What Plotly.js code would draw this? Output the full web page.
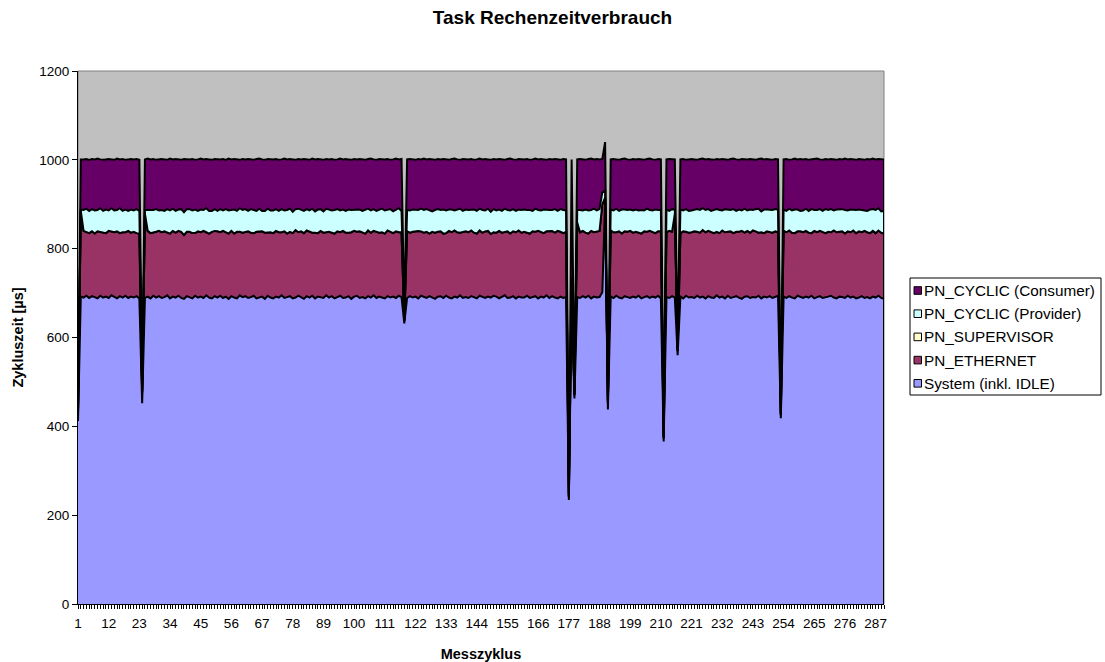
<!DOCTYPE html>
<html>
<head>
<meta charset="utf-8">
<script src="https://cdn.plot.ly/plotly-3.0.1.min.js"></script>
<style>html,body{margin:0;padding:0;background:#fff;}#chart{width:1105px;height:662px;}</style>
</head>
<body>
<div id="chart"></div>
<script>
// Series values per measurement cycle (µs)
const systemIdle = [
412,692,690,694,689,693,691,688,694,690,
692,689,695,691,688,693,690,694,689,692,
690,693,688,452,689,692,688,694,690,693,
689,691,695,688,692,690,694,689,687,693,
691,688,694,690,692,689,695,690,688,693,
690,694,689,692,687,693,690,688,695,691,
693,689,691,694,688,690,692,687,694,690,
688,692,690,695,689,691,693,688,690,694,
691,687,693,690,694,688,692,690,689,695,
690,693,688,691,694,689,690,693,687,692,
694,689,691,688,693,690,695,689,692,690,
688,693,690,692,689,694,691,632,689,693,
690,692,688,694,691,689,693,690,687,692,
693,689,694,690,688,692,690,695,689,691,
689,693,690,688,694,691,689,692,690,694,
692,688,691,695,689,690,693,688,692,690,
690,694,689,691,693,688,692,690,695,689,
693,690,688,692,689,691,234,690,463,691,
689,693,690,694,688,692,690,691,702,905,
438,692,689,694,690,688,693,691,689,692,
690,694,688,691,693,689,692,690,694,688,
366,691,689,693,690,560,692,688,694,690,
691,689,694,690,692,688,693,690,689,695,
690,692,688,694,689,691,693,690,687,692,
693,689,691,690,694,688,692,690,693,689,
691,694,418,692,689,693,690,688,694,691,
689,692,690,694,688,691,693,689,690,692,
694,690,688,692,691,689,694,690,692,688,
690,693,689,691,688,692,690,694,689,687];

const pnEthernet = [
18,193,150,144,146,146,143,151,144,146,
143,151,144,146,151,142,147,143,151,144,
148,142,146,24,190,148,147,142,148,147,
148,148,142,146,148,146,146,149,144,145,
147,147,141,149,145,151,142,144,150,147,
149,143,151,145,147,147,144,150,143,145,
145,150,145,141,150,148,147,149,142,147,
147,148,147,142,150,143,145,147,152,143,
148,148,148,148,142,148,143,150,147,142,
148,143,146,148,143,151,146,143,150,148,
144,150,145,146,148,146,145,149,144,147,
146,148,147,143,150,143,146,6,150,143,
148,147,152,145,145,149,141,148,149,146,
146,145,141,150,149,149,147,141,148,148,
148,148,146,146,147,145,150,148,143,143,
144,152,145,142,150,144,146,149,149,146,
148,142,145,148,145,152,145,145,144,150,
147,146,152,146,146,147,7,40,7,168,
148,147,146,140,152,145,149,149,198,10,
15,149,148,143,149,146,146,147,151,144,
148,142,146,148,145,151,145,145,145,151,
7,146,151,145,188,10,143,151,144,146,
146,150,144,146,150,149,147,148,146,143,
145,149,149,144,150,144,145,148,153,144,
147,147,150,149,142,149,143,149,145,147,
148,143,8,148,148,148,146,147,145,148,
148,148,146,141,152,146,147,149,145,146,
143,151,149,146,148,145,145,147,149,147,
149,144,151,146,147,148,145,147,147,147];

const pnSupervisor = [
0,0,0,0,0,0,0,0,0,0, 0,0,0,0,0,0,0,0,0,0, 0,0,0,0,0,0,0,0,0,0,
0,0,0,0,0,0,0,0,0,0, 0,0,0,0,0,0,0,0,0,0, 0,0,0,0,0,0,0,0,0,0,
0,0,0,0,0,0,0,0,0,0, 0,0,0,0,0,0,0,0,0,0, 0,0,0,0,0,0,0,0,0,0,
0,0,0,0,0,0,0,0,0,0, 0,0,0,0,0,0,0,0,0,0, 0,0,0,0,0,0,0,0,0,0,
0,0,0,0,0,0,0,0,0,0, 0,0,0,0,0,0,0,0,0,0, 0,0,0,0,0,0,0,0,0,0,
0,0,0,0,0,0,0,0,0,0, 0,0,0,0,0,0,0,0,0,0, 0,0,0,0,0,0,0,0,0,0,
0,0,0,0,0,0,0,0,0,0, 0,0,0,0,0,0,0,0,0,0, 0,0,0,0,0,0,0,0,0,0,
0,0,0,0,0,0,0,0,0,0, 0,0,0,0,0,0,0,0,0,0, 0,0,0,0,0,0,0,0,0,0,
0,0,0,0,0,0,0,0,0,0, 0,0,0,0,0,0,0,0,0,0, 0,0,0,0,0,0,0,0,0,0,
0,0,0,0,0,0,0,0,0,0, 0,0,0,0,0,0,0,0,0,0];

const pnProvider = [
4,3,47,52,50,50,52,48,53,49,
53,46,52,49,48,56,48,51,45,52,
48,54,51,4,8,47,52,51,51,46,
50,46,52,52,50,49,48,51,51,51,
51,51,53,46,51,47,54,51,47,49,
46,52,46,52,52,47,54,47,53,51,
51,46,53,52,47,52,46,49,54,49,
51,49,48,52,47,53,52,48,47,53,
48,50,48,48,54,48,53,49,48,53,
50,50,53,50,49,48,49,52,50,47,
49,49,49,53,49,50,49,47,52,53,
52,46,52,49,48,54,48,3,48,50,
50,49,47,51,51,51,53,46,51,51,
48,54,51,48,51,45,51,54,48,49,
50,47,52,51,49,51,47,50,50,52,
50,48,49,53,48,52,50,48,47,51,
50,51,53,46,52,47,49,53,48,48,
47,53,45,51,52,48,3,5,3,28,
50,46,52,52,47,53,47,49,27,15,
3,47,49,53,46,54,49,49,48,50,
50,50,53,47,52,47,49,53,48,48,
3,51,45,51,10,3,53,47,51,49,
49,49,51,51,49,50,49,47,52,51,
52,45,52,50,48,54,47,50,46,54,
46,52,46,50,54,47,53,49,49,51,
50,51,3,48,48,49,50,53,49,46,
49,50,49,54,47,50,49,47,54,49,
52,45,51,50,50,53,47,51,46,52,
49,50,47,48,53,49,52,50,48,51];

const pnConsumer = [
4,113,114,112,115,113,115,116,110,115,
113,116,110,114,116,110,117,112,116,114,
115,113,115,3,114,116,114,115,111,115,
115,116,111,117,111,117,113,111,120,112,
112,116,112,116,115,114,111,116,115,113,
116,112,116,111,117,114,114,116,109,115,
112,117,112,113,117,113,116,115,112,115,
115,113,115,112,117,114,112,118,111,112,
114,117,112,114,113,117,114,112,116,112,
113,116,113,112,117,113,117,113,113,115,
114,114,116,113,112,117,112,115,114,111,
115,115,111,117,116,110,117,3,114,116,
113,112,115,111,116,112,115,117,113,113,
114,114,115,112,114,117,113,110,117,113,
114,114,112,116,113,114,116,111,117,113,
115,114,116,110,115,117,112,115,114,114,
113,115,113,116,113,114,116,113,113,115,
114,113,116,111,115,115,3,266,3,114,
115,115,112,116,116,111,116,112,75,110,
4,113,116,111,115,114,115,114,112,116,
113,116,114,114,112,116,115,112,115,114,
3,113,117,112,113,3,113,116,111,116,
116,113,111,115,112,114,113,116,113,113,
114,116,112,112,115,114,116,112,116,111,
115,114,114,111,112,119,113,114,114,113,
113,113,3,113,117,110,115,115,113,117,
115,112,115,112,115,116,112,115,113,114,
113,115,112,114,112,116,115,114,114,113,
114,114,113,117,113,114,114,111,117,116];

const seriesNames = ["System (inkl. IDLE)", "PN_ETHERNET", "PN_SUPERVISOR", "PN_CYCLIC (Provider)", "PN_CYCLIC (Consumer)"];
const seriesColors = ["#9999FF", "#993366", "#FFFFCC", "#CCFFFF", "#660066"];
const seriesValues = [systemIdle, pnEthernet, pnSupervisor, pnProvider, pnConsumer];
const cycles = systemIdle.map((_, i) => i + 1);

const FONT = "Liberation Sans, Arial, sans-serif";
const traces = seriesValues.map((vals, k) => ({
  type: "scatter", mode: "lines", x: cycles, y: vals,
  stackgroup: "one", name: seriesNames[k],
  line: {color: "#000000", width: 2, shape: "linear"},
  fillcolor: seriesColors[k], showlegend: false, hoverinfo: "skip"
}));

// plot-area geometry in pixels (for the hand-drawn Excel-style legend)
const M = {l: 78, r: 221, t: 71, b: 58};
const W = 1105, H = 662;
const pw = W - M.l - M.r, ph = H - M.t - M.b;
const px = x => (x - M.l) / pw;
const py = y => (H - M.b - y) / ph;

const lastIdx = cycles.length - 1;
const lastTotal = seriesValues.reduce((s, v) => s + v[lastIdx], 0);

const shapes = [
  {type: "rect", xref: "paper", yref: "paper", x0: 0, x1: 1, y0: 0, y1: 1, line: {color: "#808080", width: 1}, layer: "below"},
  {type: "line", xref: "x", yref: "y", x0: cycles[lastIdx], x1: cycles[lastIdx], y0: 0, y1: lastTotal, line: {color: "#000000", width: 2}, layer: "above"},
  {type: "rect", xref: "paper", yref: "paper", x0: px(910), x1: px(1101), y0: py(395), y1: py(278), line: {color: "#000000", width: 1}, fillcolor: "#FFFFFF", layer: "above"}
];
const annotations = [];
const legendOrder = [4, 3, 2, 1, 0];
legendOrder.forEach((k, j) => {
  const cy = 290.5 + j * 23.2;
  shapes.push({type: "rect", xref: "paper", yref: "paper", x0: px(914), x1: px(921.5), y0: py(cy + 3.8), y1: py(cy - 3.8),
    line: {color: "#000000", width: 1}, fillcolor: seriesColors[k], layer: "above"});
  annotations.push({xref: "paper", yref: "paper", x: px(922), y: py(cy), xanchor: "left", yanchor: "middle",
    text: seriesNames[k], showarrow: false, font: {family: FONT, size: 15.3, color: "#000000"}});
});

const layout = {
  width: W, height: H,
  margin: M,
  paper_bgcolor: "#FFFFFF", plot_bgcolor: "#C0C0C0",
  font: {family: FONT, size: 13.5, color: "#000000"},
  title: {text: "<b>Task Rechenzeitverbrauch</b>", font: {family: FONT, size: 19}, x: 0.5, xref: "container", y: 0.974, yref: "container", yanchor: "middle"},
  showlegend: false,
  xaxis: {
    range: [1, cycles.length], tickmode: "linear", tick0: 1, dtick: 11,
    showgrid: false, zeroline: false, showline: true, linecolor: "#000000", linewidth: 1,
    ticks: "outside", ticklen: 4, tickcolor: "#000000", tickfont: {family: FONT, size: 13.5},
    ticklabelstandoff: 3,
    minor: {tickmode: "linear", tick0: 1, dtick: 1, ticks: "outside", ticklen: 4, tickcolor: "#000000", showgrid: false},
    title: {text: "<b>Messzyklus</b>", font: {family: FONT, size: 14.5}, standoff: 20},
    fixedrange: true
  },
  yaxis: {
    range: [0, 1200], tickmode: "linear", tick0: 0, dtick: 200,
    showgrid: false, zeroline: false, showline: true, linecolor: "#000000", linewidth: 1,
    ticks: "outside", ticklen: 5, tickcolor: "#000000", tickfont: {family: FONT, size: 13.5},
    title: {text: "<b>Zykluszeit [µs]</b>", font: {family: FONT, size: 14.5}, standoff: 12},
    fixedrange: true
  },
  shapes: shapes,
  annotations: annotations
};

Plotly.newPlot("chart", traces, layout, {staticPlot: true, displayModeBar: false});
</script>
</body>
</html>
